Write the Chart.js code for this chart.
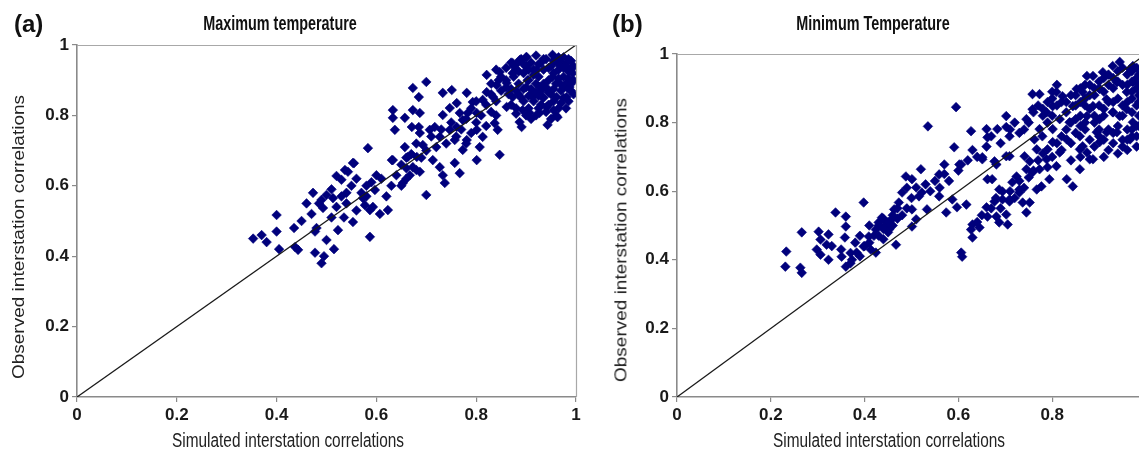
<!DOCTYPE html>
<html><head><meta charset="utf-8">
<script src="https://cdn.jsdelivr.net/npm/chart.js@4.4.0/dist/chart.umd.min.js"></script>
<style>
html,body{margin:0;padding:0;background:#fff;}
body{width:1139px;height:455px;overflow:hidden;position:relative;}
canvas{position:absolute;top:0;}
.t{position:absolute;white-space:nowrap;color:#111;line-height:1;font-family:'Liberation Sans',Arial,sans-serif;}
.panel{font-weight:bold;font-size:24px;}
.ttl{font-weight:bold;font-size:20px;transform:translateX(-50%) scaleX(0.72);}
.xt{font-size:20px;color:#222;transform:translateX(-50%) scaleX(0.77);}
.yt{font-size:19px;color:#222;transform:translate(-50%,-50%) rotate(-90deg) scale(1,0.82);}
</style></head>
<body>
<canvas id="cA" width="590" height="455" style="left:0px"></canvas>
<canvas id="cB" width="600" height="455" style="left:600px"></canvas>
<div class="t panel" style="left:14px;top:12px">(a)</div>
<div class="t panel" style="left:612px;top:12px">(b)</div>
<div class="t ttl" style="left:280px;top:13px">Maximum temperature</div>
<div class="t ttl" style="left:873px;top:13px">Minimum Temperature</div>
<div class="t xt" style="left:288px;top:430px">Simulated interstation correlations</div>
<div class="t xt" style="left:889px;top:430px">Simulated interstation correlations</div>
<div class="t yt" style="left:19px;top:237px">Observed interstation correlations</div>
<div class="t yt" style="left:621px;top:240px">Observed interstation correlations</div>
<script>
const tickValues = [0, 0.2, 0.4, 0.6, 0.8, 1];
const tickLabels = ['0', '0.2', '0.4', '0.6', '0.8', '1'];
const diagonal = [[0, 0], [1, 1]];

const maxTempPoints = [
[0.353,0.45],[0.37,0.46],[0.38,0.44],[0.40,0.517],[0.40,0.47],[0.435,0.48],[0.405,0.42],[0.437,0.426],[0.443,0.418],
[0.477,0.47],[0.477,0.41],[0.49,0.38],[0.50,0.446],[0.515,0.42],[0.495,0.40],[0.46,0.55],[0.473,0.58],[0.485,0.55],
[0.493,0.537],[0.50,0.574],[0.513,0.565],[0.52,0.628],[0.53,0.617],[0.54,0.58],[0.54,0.55],[0.535,0.51],[0.553,0.497],
[0.523,0.474],[0.555,0.664],[0.543,0.64],[0.573,0.565],[0.577,0.545],[0.587,0.531],[0.593,0.54],[0.607,0.52],[0.623,0.531],
[0.587,0.455],[0.58,0.60],[0.597,0.588],[0.60,0.63],[0.633,0.673],[0.653,0.608],[0.667,0.63],[0.673,0.653],[0.687,0.64],
[0.70,0.574],[0.66,0.68],[0.713,0.673],[0.733,0.63],[0.737,0.608],[0.727,0.653],[0.65,0.60],[0.66,0.62],[0.68,0.645],
[0.70,0.895],[0.673,0.878],[0.685,0.852],[0.633,0.815],[0.633,0.793],[0.657,0.793],[0.673,0.815],[0.687,0.807],
[0.637,0.759],[0.671,0.767],[0.685,0.767],[0.687,0.75],[0.583,0.707],[0.553,0.665],[0.537,0.645],[0.631,0.673],
[0.657,0.71],[0.663,0.682],[0.681,0.682],[0.693,0.716],[0.707,0.759],[0.717,0.767],[0.727,0.739],[0.733,0.864],
[0.751,0.872],[0.733,0.801],[0.747,0.821],[0.761,0.835],[0.767,0.807],[0.781,0.864],[0.783,0.807],[0.793,0.838],
[0.801,0.807],[0.747,0.759],[0.761,0.767],[0.773,0.787],[0.757,0.73],[0.781,0.73],[0.773,0.702],[0.801,0.759],
[0.807,0.71],[0.813,0.739],[0.801,0.673],[0.767,0.636],[0.757,0.665],[0.821,0.915],[0.821,0.866],[0.847,0.923],
[0.841,0.886],[0.834,0.852],[0.813,0.844],[0.837,0.778],[0.843,0.759],[0.847,0.688],[0.861,0.892],[0.873,0.949],
[0.887,0.957],[0.901,0.966],[0.873,0.92],[0.873,0.852],[0.861,0.824],[0.887,0.781],[0.891,0.767],[0.893,0.815],
[0.913,0.852],[0.927,0.881],[0.941,0.824],[0.943,0.773],[0.953,0.972],[0.963,0.795],[0.981,0.949],[0.993,0.92],
[0.953,0.909],[0.921,0.929],[0.903,0.90],[0.933,0.852],[0.961,0.852],[0.981,0.852],[0.967,0.892],[0.987,0.881],
[0.927,0.807],[0.907,0.807],
[0.87,0.95],[0.88,0.93],[0.89,0.96],[0.90,0.94],[0.91,0.95],[0.92,0.97],[0.93,0.95],[0.94,0.96],[0.95,0.94],
[0.96,0.96],[0.97,0.95],[0.98,0.94],[0.99,0.93],[0.975,0.965],[0.86,0.90],[0.875,0.91],[0.885,0.89],[0.895,0.92],
[0.905,0.90],[0.915,0.93],[0.925,0.91],[0.935,0.93],[0.945,0.90],[0.955,0.92],[0.965,0.93],[0.975,0.91],[0.985,0.925],
[0.995,0.90],[0.85,0.87],[0.865,0.86],[0.88,0.87],[0.89,0.85],[0.90,0.88],[0.91,0.86],[0.92,0.89],[0.93,0.87],
[0.94,0.88],[0.95,0.86],[0.96,0.89],[0.97,0.87],[0.98,0.89],[0.99,0.87],[0.87,0.83],[0.88,0.82],[0.895,0.84],
[0.905,0.82],[0.915,0.84],[0.925,0.82],[0.935,0.85],[0.945,0.83],[0.955,0.84],[0.965,0.82],[0.975,0.85],[0.985,0.84],
[0.92,0.80],[0.94,0.81],[0.90,0.80],[0.96,0.80],[0.95,0.79],[0.84,0.84],[0.83,0.86],[0.845,0.90],[0.86,0.935],
[0.88,0.945],[0.90,0.965],[0.965,0.965],[0.99,0.955],[0.995,0.94],[0.985,0.905],[0.995,0.86],
[0.47,0.52],[0.49,0.56],[0.51,0.59],[0.52,0.54],[0.53,0.57],[0.55,0.60],[0.56,0.62],[0.57,0.58],[0.45,0.50],
[0.48,0.48],[0.51,0.51],[0.56,0.53],[0.58,0.57],[0.59,0.61],[0.61,0.62],[0.62,0.57],[0.63,0.60],[0.64,0.63],
[0.65,0.66],[0.66,0.65],[0.67,0.69],[0.68,0.72],[0.69,0.68],[0.70,0.70],[0.71,0.74],[0.72,0.71],[0.73,0.76],
[0.74,0.72],[0.75,0.78],[0.76,0.74],[0.77,0.76],[0.78,0.79],[0.79,0.82],[0.80,0.84],[0.81,0.80],[0.82,0.83],
[0.83,0.81],[0.84,0.80],[0.80,0.78],[0.78,0.72],[0.79,0.75],[0.82,0.77],[0.83,0.89],[0.85,0.91],[0.86,0.88],
[0.84,0.93],[0.875,0.94],[0.885,0.925],[0.895,0.945],[0.905,0.93],[0.915,0.915],[0.925,0.945],[0.935,0.96],
[0.945,0.935],[0.955,0.955],[0.965,0.945],[0.975,0.935],[0.985,0.96],[0.87,0.875],[0.885,0.86],[0.895,0.875],
[0.91,0.875],[0.92,0.865],[0.935,0.89],[0.945,0.865],[0.955,0.875],[0.965,0.905],[0.975,0.88],[0.985,0.875],
[0.99,0.89],[0.88,0.805],[0.91,0.79],[0.93,0.83],[0.955,0.815],[0.97,0.835],[0.98,0.82],[0.905,0.855],[0.925,0.855]
];

const minTempPoints = [
[0.233,0.424],[0.231,0.38],[0.263,0.377],[0.266,0.362],[0.266,0.48],[0.302,0.482],[0.306,0.459],[0.298,0.43],
[0.306,0.415],[0.319,0.444],[0.323,0.40],[0.323,0.474],[0.338,0.538],[0.36,0.526],[0.36,0.497],[0.358,0.465],
[0.351,0.409],[0.36,0.38],[0.373,0.40],[0.383,0.421],[0.398,0.567],[0.398,0.439],[0.409,0.468],[0.413,0.43],
[0.424,0.488],[0.424,0.421],[0.43,0.509],[0.437,0.523],[0.445,0.503],[0.452,0.488],[0.458,0.518],[0.463,0.547],
[0.467,0.444],[0.473,0.567],[0.48,0.596],[0.488,0.643],[0.501,0.635],[0.51,0.611],[0.516,0.585],[0.501,0.547],
[0.52,0.664],[0.522,0.596],[0.533,0.547],[0.51,0.518],[0.501,0.497],[0.559,0.649],[0.559,0.585],[0.57,0.678],
[0.574,0.538],[0.587,0.576],[0.602,0.678],[0.606,0.421],[0.608,0.409],[0.597,0.553],[0.617,0.561],[0.627,0.488],
[0.63,0.503],[0.63,0.465],[0.645,0.494],[0.651,0.693],[0.66,0.553],[0.662,0.635],[0.662,0.526],[0.672,0.635],
[0.677,0.57],[0.681,0.526],[0.687,0.509],[0.694,0.599],[0.702,0.532],[0.705,0.503],[0.709,0.57],[0.715,0.626],
[0.724,0.643],[0.73,0.605],[0.737,0.567],[0.741,0.702],[0.745,0.664],[0.752,0.687],[0.758,0.655],[0.767,0.605],
[0.745,0.538],[0.677,0.687],[0.709,0.702],[0.43,0.50],[0.44,0.52],[0.45,0.51],[0.44,0.49],[0.46,0.53],[0.45,0.48],
[0.42,0.47],[0.47,0.55],[0.39,0.41],[0.37,0.39],[0.40,0.44],
[0.595,0.845],[0.535,0.789],[0.627,0.775],[0.66,0.781],[0.662,0.757],[0.683,0.781],[0.702,0.819],[0.702,0.787],
[0.709,0.76],[0.591,0.728],[0.606,0.678],[0.651,0.699],[0.681,0.678],[0.702,0.702],[0.758,0.883],[0.773,0.883],
[0.745,0.81],[0.758,0.839],[0.773,0.781],[0.762,0.751],[0.767,0.722],[0.779,0.76],[0.788,0.83],[0.801,0.848],
[0.809,0.889],[0.822,0.877],[0.816,0.81],[0.801,0.781],[0.79,0.722],[0.801,0.743],[0.788,0.693],[0.773,0.664],
[0.777,0.614],[0.794,0.635],[0.809,0.673],[0.816,0.713],[0.831,0.751],[0.837,0.801],[0.844,0.848],[0.852,0.898],
[0.865,0.889],[0.874,0.936],[0.887,0.936],[0.901,0.898],[0.908,0.947],[0.929,0.965],[0.944,0.977],[0.966,0.956],
[0.972,0.965],[0.972,0.918],[0.959,0.889],[0.938,0.918],[0.916,0.868],[0.887,0.848],[0.874,0.819],[0.901,0.81],
[0.929,0.83],[0.959,0.839],[0.972,0.801],[0.938,0.772],[0.916,0.772],[0.895,0.772],[0.859,0.76],[0.859,0.722],
[0.874,0.713],[0.887,0.693],[0.865,0.731],[0.901,0.743],[0.966,0.751],[0.944,0.819],[0.831,0.635],[0.844,0.614],
[0.859,0.664],[0.73,0.596],[0.752,0.567],[0.709,0.576],[0.687,0.605],[0.694,0.576],[0.88,0.693],
[0.82,0.86],[0.84,0.88],[0.86,0.90],[0.88,0.91],[0.90,0.92],[0.92,0.94],[0.94,0.95],[0.96,0.94],[0.98,0.96],
[0.97,0.92],[0.83,0.83],[0.85,0.85],[0.87,0.87],[0.89,0.88],[0.91,0.89],[0.93,0.90],[0.95,0.91],[0.97,0.89],
[0.98,0.90],[0.84,0.80],[0.86,0.82],[0.88,0.84],[0.90,0.85],[0.92,0.86],[0.94,0.87],[0.96,0.86],[0.98,0.85],
[0.87,0.78],[0.89,0.80],[0.91,0.82],[0.93,0.83],[0.95,0.82],[0.97,0.83],[0.985,0.82],[0.90,0.76],[0.92,0.78],
[0.94,0.79],[0.96,0.78],[0.98,0.79],[0.93,0.74],[0.95,0.75],[0.97,0.76],[0.96,0.72],[0.98,0.73],[0.94,0.71],
[0.91,0.70],[0.80,0.82],[0.81,0.85],[0.79,0.80],[0.78,0.84],[0.80,0.87],[0.985,0.94],[0.985,0.88],
[0.33,0.44],[0.35,0.43],[0.37,0.42],[0.38,0.45],[0.39,0.47],[0.41,0.45],[0.41,0.50],[0.43,0.47],[0.44,0.46],
[0.46,0.50],[0.47,0.52],[0.48,0.53],[0.49,0.55],[0.50,0.58],[0.49,0.61],[0.53,0.62],[0.54,0.60],[0.55,0.63],
[0.56,0.61],[0.57,0.65],[0.58,0.63],[0.60,0.66],[0.62,0.69],[0.63,0.72],[0.64,0.70],[0.66,0.73],[0.67,0.76],
[0.69,0.74],[0.71,0.78],[0.72,0.80],[0.73,0.77],[0.74,0.78],[0.75,0.80],[0.76,0.83],[0.77,0.85],[0.78,0.82],
[0.79,0.86],[0.80,0.89],[0.81,0.91],
[0.64,0.51],[0.65,0.53],[0.67,0.55],[0.68,0.58],[0.69,0.55],[0.71,0.60],[0.72,0.58],[0.73,0.63],[0.74,0.61],
[0.75,0.64],[0.76,0.66],[0.77,0.69],[0.78,0.71],[0.79,0.67],[0.80,0.70],[0.81,0.74],[0.82,0.76],[0.83,0.78],
[0.82,0.72],[0.84,0.74],[0.85,0.77],[0.86,0.79],[0.84,0.69],[0.86,0.70],[0.88,0.75],[0.89,0.73],[0.90,0.78],
[0.91,0.75],[0.92,0.72],[0.93,0.77],[0.95,0.73],[0.96,0.75],[0.97,0.78],[0.98,0.76],[0.985,0.79],[0.985,0.86],
[0.985,0.91],[0.97,0.87],[0.95,0.85],[0.93,0.86],[0.91,0.84],[0.89,0.82],[0.87,0.80],[0.85,0.81],[0.86,0.86],
[0.88,0.88],[0.90,0.90],[0.92,0.91],[0.94,0.92],[0.96,0.91],[0.98,0.93],[0.95,0.96],[0.97,0.95],[0.93,0.93],
[0.91,0.93],[0.89,0.90],[0.87,0.85],[0.83,0.86],[0.85,0.88],[0.87,0.91]
];

const tickFont = {family:"'Liberation Sans',Arial,sans-serif", size:17, weight:'bold'};

const framePlugin = {
  id:'frame',
  afterDatasetsDraw(chart){
    const a = chart.chartArea, c = chart.ctx;
    c.save();
    c.strokeStyle = '#a8a8a8'; c.lineWidth = 1.2;
    c.beginPath();
    c.moveTo(a.left, a.top + 0.5); c.lineTo(a.right + 0.5, a.top + 0.5); c.lineTo(a.right + 0.5, a.bottom);
    c.stroke();
    c.restore();
  }
};

function axis(isX, size){
  return {
    type:'linear', min:0, max:1,
    afterFit(s){ if(isX) s.height = size; else s.width = size; },
    afterBuildTicks(s){ s.ticks = tickValues.map(v => ({value:v})); },
    ticks:{ callback:(v,i) => tickLabels[i], font:tickFont, color:'#1a1a1a', padding:3, maxRotation:0, autoSkip:false },
    grid:{ display:true, drawOnChartArea:false, drawTicks:true, tickLength:5, color:'#8a8a8a', lineWidth:1.2 },
    border:{ display:true, color:'#8a8a8a', width:1.6 }
  };
}

function makeChart(id, pts, pad){
  return new Chart(document.getElementById(id), {
    type:'scatter',
    data:{ datasets:[
      { type:'line', data: diagonal.map(p => ({x:p[0], y:p[1]})), borderColor:'#1a1a1a', borderWidth:1.3, pointRadius:0, order:0 },
      { data: pts.map(p => ({x:p[0], y:p[1]})), pointStyle:'rectRot', pointRadius:4.8, backgroundColor:'#00007c', borderColor:'#00007c', borderWidth:0.6, order:1 }
    ]},
    options:{
      responsive:false, animation:false, devicePixelRatio:1,
      layout:{ padding:{ top:pad.top, right:pad.right, left:0, bottom:0 } },
      plugins:{ legend:{display:false}, tooltip:{enabled:false}, title:{display:false} },
      scales:{ x: axis(true, pad.xh), y: axis(false, pad.yw) }
    },
    plugins:[framePlugin]
  });
}

makeChart('cA', maxTempPoints, {top:45, right:14, xh:58, yw:77});
makeChart('cB', minTempPoints, {top:54, right:54, xh:58, yw:77});
</script>
</body></html>
